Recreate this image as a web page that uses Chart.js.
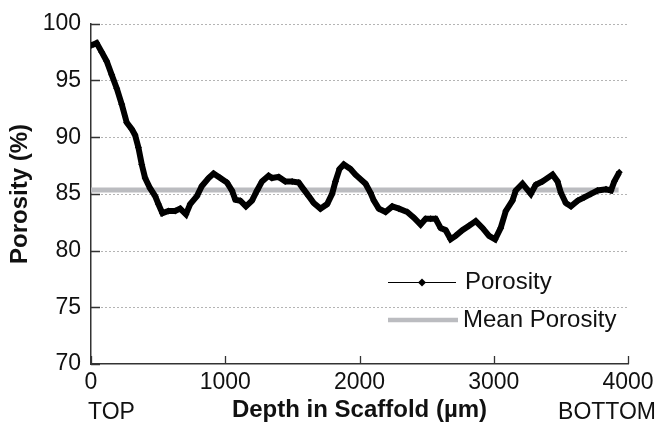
<!DOCTYPE html>
<html>
<head>
<meta charset="utf-8">
<script src="https://cdn.jsdelivr.net/npm/chart.js@4/dist/chart.umd.min.js"></script>
<style>
  html, body { margin: 0; padding: 0; background: #fff; }
  #wrap { width: 659px; height: 425px; }
</style>
</head>
<body>
<div id="wrap"><canvas id="porosityChart" width="659" height="425"></canvas></div>
<script>
// Data
var depthUm = [5, 42, 80, 117, 154, 192, 229, 266, 304, 328, 353, 378, 403, 440, 478, 502, 532, 577, 627, 664,
    707, 739, 789, 826, 876, 913, 963, 1013, 1050, 1075, 1112, 1154, 1199, 1237, 1274, 1323, 1348, 1398, 1448, 1498,
    1547, 1584, 1622, 1659, 1709, 1759, 1796, 1821, 1851, 1883, 1933, 1970, 2007, 2045, 2082, 2107, 2144, 2194, 2244, 2294,
    2356, 2405, 2455, 2493, 2530, 2567, 2604, 2642, 2679, 2716, 2766, 2816, 2866, 2916, 2965, 3010, 3052, 3090, 3139, 3164,
    3214, 3276, 3313, 3363, 3438, 3475, 3500, 3537, 3575, 3625, 3674, 3724, 3774, 3836, 3873, 3898, 3935];
var porosity = [98.1, 98.3, 97.5, 96.7, 95.5, 94.3, 92.9, 91.3, 90.7, 90.2, 89.1, 87.6, 86.4, 85.5, 84.8, 84.1, 83.3, 83.5, 83.5, 83.7,
    83.2, 84.1, 84.8, 85.7, 86.4, 86.8, 86.4, 86.0, 85.3, 84.5, 84.4, 83.9, 84.4, 85.3, 86.1, 86.6, 86.4, 86.5, 86.1, 86.1,
    86.0, 85.4, 84.8, 84.2, 83.7, 84.1, 85.0, 86.1, 87.2, 87.6, 87.2, 86.7, 86.3, 85.9, 85.1, 84.4, 83.7, 83.4, 83.9, 83.7,
    83.4, 82.9, 82.3, 82.8, 82.8, 82.8, 82.0, 81.8, 81.0, 81.3, 81.8, 82.2, 82.6, 82.0, 81.3, 81.0, 82.0, 83.5, 84.4, 85.3,
    85.9, 85.0, 85.8, 86.1, 86.7, 86.1, 85.1, 84.2, 83.9, 84.4, 84.7, 85.0, 85.3, 85.4, 85.3, 86.1, 86.9];
var meanPorosity = 85.35;
var meanSpan = [0, 3930];
var xTicks = [0, 1000, 2000, 3000, 4000];
var yTicks = [70, 75, 80, 85, 90, 95, 100];
var seriesNames = ['Porosity', 'Mean Porosity'];
var endLabels = ['TOP', 'BOTTOM'];

var fam = '"Liberation Sans", Arial, Helvetica, sans-serif';
var axisCol = '#333333';

// Hjelpar
function gel(id) { return document.getElementById(id); }

var porosityPts = depthUm.map(function (d, i) { return { x: d, y: porosity[i] }; });
var meanPts = meanSpan.map(function (d) { return { x: d, y: meanPorosity }; });

// dotted grid behind the data
var dotGrid = {
    id: 'dotGrid',
    beforeDatasetsDraw: function (chart) {
        var ctx = chart.ctx, a = chart.chartArea, sy = chart.scales.y;
        ctx.save();
        ctx.strokeStyle = '#b4b4b4';
        ctx.lineWidth = 1;
        ctx.setLineDash([2, 2]);
        ctx.beginPath();
        yTicks.forEach(function (v) {
            if (v === yTicks[0]) return;
            var py = Math.round(sy.getPixelForValue(v)) + 0.5;
            ctx.moveTo(a.left + 2, py);
            ctx.lineTo(a.right, py);
        });
        ctx.stroke();
        ctx.restore();
    }
};

// short ticks pointing into the plot
var innerTicks = {
    id: 'innerTicks',
    afterDraw: function (chart) {
        var ctx = chart.ctx, a = chart.chartArea, sx = chart.scales.x, sy = chart.scales.y;
        ctx.save();
        ctx.strokeStyle = axisCol;
        ctx.lineWidth = 1.3;
        ctx.beginPath();
        xTicks.forEach(function (v) {
            var px = Math.round(sx.getPixelForValue(v)) + 0.5;
            ctx.moveTo(px, a.bottom);
            ctx.lineTo(px, a.bottom - 8);
        });
        yTicks.forEach(function (v) {
            var py = Math.round(sy.getPixelForValue(v)) + 0.5;
            ctx.moveTo(a.left, py);
            ctx.lineTo(a.left + 9, py);
        });
        ctx.stroke();
        // TOP / BOTTOM under the axis
        ctx.fillStyle = '#111';
        ctx.font = '23px ' + fam;
        ctx.textBaseline = 'middle';
        ctx.textAlign = 'left';
        ctx.fillText(endLabels[0], a.left - 3, 413);
        ctx.textAlign = 'right';
        ctx.fillText(endLabels[1], 656, 413);
        ctx.restore();
    }
};

// legend inside the plot, bottom right
var boxLegend = {
    id: 'boxLegend',
    afterDatasetsDraw: function (chart) {
        var ctx = chart.ctx;
        var ds = chart.data.datasets;
        ctx.save();
        // Porosity
        ctx.strokeStyle = ds[0].borderColor;
        ctx.lineWidth = 1;
        ctx.beginPath();
        ctx.moveTo(388, 282.5);
        ctx.lineTo(456, 282.5);
        ctx.stroke();
        ctx.fillStyle = '#000';
        ctx.beginPath();
        ctx.moveTo(422, 278.5);
        ctx.lineTo(426, 282.5);
        ctx.lineTo(422, 286.5);
        ctx.lineTo(418, 282.5);
        ctx.closePath();
        ctx.fill();
        // Mean Porosity
        ctx.strokeStyle = ds[1].borderColor;
        ctx.lineWidth = 4.5;
        ctx.beginPath();
        ctx.moveTo(388, 320);
        ctx.lineTo(458, 320);
        ctx.stroke();
        ctx.fillStyle = '#111';
        ctx.font = '24px ' + fam;
        ctx.textBaseline = 'middle';
        ctx.textAlign = 'left';
        ctx.fillText(ds[0].label, 465, 282);
        ctx.fillText(ds[1].label, 463, 320);
        ctx.restore();
    }
};

var chart1 = new Chart(gel('porosityChart').getContext('2d'), {
    type: 'scatter',
    data: {
        datasets: [{
            label: seriesNames[0],
            data: porosityPts,
            showLine: true,
            borderColor: '#000000',
            backgroundColor: '#000000',
            borderWidth: 6,
            pointStyle: 'rectRot',
            pointRadius: 3.5,
            pointBorderWidth: 0,
            tension: 0
        }, {
            label: seriesNames[1],
            data: meanPts,
            showLine: true,
            borderColor: '#bbbcc0',
            backgroundColor: '#bbbcc0',
            borderWidth: 5,
            pointRadius: 0
        }]
    },
    options: {
        responsive: false,
        animation: false,
        events: [],
        layout: { padding: { left: 0, top: 22, right: 31, bottom: 0 } },
        plugins: {
            legend: { display: false },
            tooltip: { enabled: false },
            title: { display: false }
        },
        scales: {
            x: {
                type: 'linear',
                min: 0,
                max: 4000,
                afterFit: function (s) { s.height = 61; },
                afterBuildTicks: function (s) { s.ticks = xTicks.map(function (v) { return { value: v }; }); },
                grid: { display: false, drawTicks: false },
                border: { display: true, color: axisCol, width: 1.5 },
                ticks: {
                    padding: 5,
                    color: '#111',
                    maxRotation: 0,
                    font: { family: fam, size: 23 },
                    callback: function (v) { return String(v); }
                },
                title: {
                    display: true,
                    text: 'Depth in Scaffold (µm)',
                    color: '#111',
                    padding: { top: 0, bottom: 0 },
                    font: { family: fam, size: 24, weight: 'bold' }
                }
            },
            y: {
                min: 70,
                max: 100,
                afterFit: function (s) { s.width = 91; },
                afterBuildTicks: function (s) { s.ticks = yTicks.map(function (v) { return { value: v }; }); },
                grid: { display: false, drawTicks: false },
                border: { display: true, color: axisCol, width: 1.5 },
                ticks: {
                    padding: 10,
                    color: '#111',
                    font: { family: fam, size: 23 },
                    callback: function (v) { return String(v); }
                },
                title: {
                    display: true,
                    text: 'Porosity (%)',
                    color: '#111',
                    padding: { top: 6, bottom: 0 },
                    font: { family: fam, size: 24, weight: 'bold' }
                }
            }
        }
    },
    plugins: [dotGrid, innerTicks, boxLegend]
});
</script>
</body>
</html>
